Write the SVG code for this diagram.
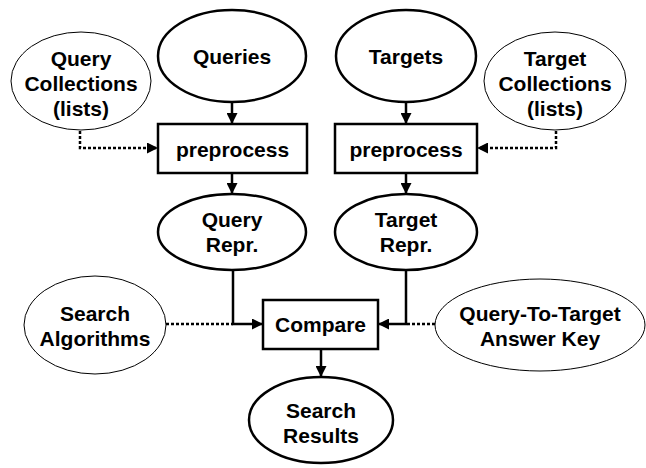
<svg xmlns="http://www.w3.org/2000/svg" width="646" height="468" viewBox="0 0 646 468">
<defs>
<style>
text{font-family:"Liberation Sans",Arial,sans-serif;font-weight:bold;font-size:21px;text-anchor:middle;fill:#000}
.thick{fill:#fff;stroke:#000;stroke-width:2.5}
.thin{fill:#fff;stroke:#000;stroke-width:1}
.line{fill:none;stroke:#000;stroke-width:2.5}
.dot{fill:none;stroke:#000;stroke-width:2.5;stroke-dasharray:3 2}
</style>
<marker id="ah" viewBox="0 0 10 10" refX="10" refY="5" markerWidth="4.4" markerHeight="4.4" markerUnits="strokeWidth" orient="auto">
<path d="M0,0 L10,5 L0,10 z" fill="#000"/>
</marker>
</defs>
<g id="connectors">
<path class="line" d="M232,102 V124" marker-end="url(#ah)"/>
<path class="line" d="M406,102 V124" marker-end="url(#ah)"/>
<path class="line" d="M232,173 V194" marker-end="url(#ah)"/>
<path class="line" d="M406,173 V194" marker-end="url(#ah)"/>
<path class="dot" d="M80,131 V148 H158" marker-end="url(#ah)"/>
<path class="dot" d="M556,131 V148 H477" marker-end="url(#ah)"/>
<path class="line" d="M233,270 V324 H263" marker-end="url(#ah)"/>
<path class="line" d="M406,270 V324 H378" marker-end="url(#ah)"/>
<path class="dot" d="M166,324 H233"/>
<path class="dot" d="M435,324 H406"/>
<path class="line" d="M321,349 V377" marker-end="url(#ah)"/>
</g>
<g id="queries"><ellipse class="thick" cx="232" cy="56" rx="74" ry="46"/><text x="232" y="64">Queries</text></g>
<g id="targets"><ellipse class="thick" cx="406" cy="56" rx="70" ry="46"/><text x="406" y="64">Targets</text></g>
<g id="query-collections"><ellipse class="thin" cx="81" cy="81" rx="70" ry="49"/><text x="81" y="66">Query</text><text x="81" y="91">Collections</text><text x="81" y="116">(lists)</text></g>
<g id="target-collections"><ellipse class="thin" cx="555" cy="81" rx="71" ry="49"/><text x="555" y="66">Target</text><text x="555" y="91">Collections</text><text x="555" y="116">(lists)</text></g>
<g id="preprocess-q"><rect class="thick" x="158" y="124" width="149" height="49"/><text x="232.5" y="157">preprocess</text></g>
<g id="preprocess-t"><rect class="thick" x="335" y="124" width="142" height="49"/><text x="406" y="157">preprocess</text></g>
<g id="query-repr"><ellipse class="thick" cx="232" cy="232" rx="74" ry="38"/><text x="232" y="227">Query</text><text x="232" y="252">Repr.</text></g>
<g id="target-repr"><ellipse class="thick" cx="406" cy="232" rx="71" ry="38"/><text x="406" y="227">Target</text><text x="406" y="252">Repr.</text></g>
<g id="search-algorithms"><ellipse class="thin" cx="95" cy="325" rx="71" ry="49"/><text x="95" y="321">Search</text><text x="95" y="346">Algorithms</text></g>
<g id="compare"><rect class="thick" x="263" y="300" width="115" height="49"/><text x="320.5" y="332">Compare</text></g>
<g id="answer-key"><ellipse class="thin" cx="540" cy="325" rx="105" ry="46"/><text x="540" y="321">Query-To-Target</text><text x="540" y="346">Answer Key</text></g>
<g id="search-results"><ellipse class="thick" cx="321" cy="420" rx="72" ry="43"/><text x="321" y="418">Search</text><text x="321" y="443">Results</text></g>
</svg>
